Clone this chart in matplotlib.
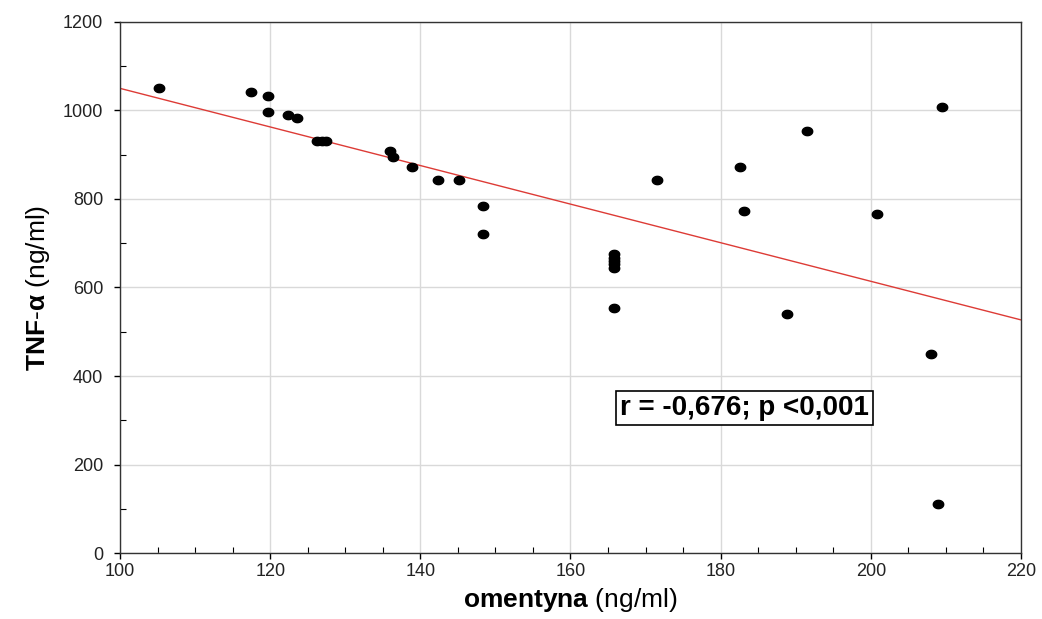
import numpy as np
import matplotlib
matplotlib.use('Agg')
import matplotlib.pyplot as plt
from matplotlib.path import Path
from matplotlib.ticker import MultipleLocator

plt.rcParams['font.family'] = ['Liberation Sans', 'DejaVu Sans']
plt.rcParams['mathtext.fontset'] = 'custom'
plt.rcParams['mathtext.rm'] = 'Liberation Sans'
plt.rcParams['mathtext.bf'] = 'Liberation Sans:bold'
plt.rcParams['mathtext.it'] = 'Liberation Sans:italic'

# omentyna vs TNF-alfa (ng/ml)
omentyna = [105.2, 117.5, 119.7, 119.7, 122.4, 123.6, 126.3, 126.9, 127.5,
            136.0, 136.4, 138.9, 142.4, 145.1, 148.3, 148.3,
            165.8, 165.8, 165.8, 165.8, 165.8, 165.8,
            171.5, 182.6, 183.1, 188.8, 191.5, 200.8, 208.0, 209.5, 208.9]
tnf_alfa = [1050, 1041, 1033, 997, 990, 984, 932, 931, 931,
            909, 895, 872, 843, 843, 785, 721,
            675, 667, 660, 652, 645, 554,
            843, 872, 773, 540, 954, 766, 450, 1008, 111]

# linia regresji
fit_intercept = 1486.0
fit_slope = -4.36
stat_text = 'r = -0,676; p <0,001'

fig = plt.figure(figsize=(10.42, 6.19), dpi=100)
ax = fig.add_axes([0.1152, 0.1066, 0.8646, 0.8579])

# elipsa jako znacznik punktu
t = np.linspace(0, 2 * np.pi, 40)
ellipse = Path(np.column_stack([1.25 * np.cos(t), np.sin(t)]), closed=True)

ax.plot(omentyna, tnf_alfa, linestyle='none', marker=ellipse, markersize=7.5,
        color='black', zorder=3)

xs = np.array([100, 220])
ax.plot(xs, fit_intercept + fit_slope * xs, color='#dd3b36', linewidth=1.0, zorder=2)

ax.set_xlim(100, 220)
ax.set_ylim(0, 1200)
ax.xaxis.set_major_locator(MultipleLocator(20))
ax.xaxis.set_minor_locator(MultipleLocator(5))
ax.yaxis.set_major_locator(MultipleLocator(200))
ax.yaxis.set_minor_locator(MultipleLocator(100))
ax.grid(True, which='major', color='#d9d9d9', linewidth=1.0)
ax.set_axisbelow(True)
ax.tick_params(which='major', direction='out', length=4, width=1, labelsize=13,
               labelcolor='#222222')
ax.tick_params(axis='y', which='major', pad=8)
ax.tick_params(which='minor', direction='in', length=4, width=0.8)
for sp in ax.spines.values():
    sp.set_color('#333333')
    sp.set_linewidth(1.0)

ax.set_xlabel(r'$\mathbf{omentyna}$ (ng/ml)', fontsize=19, labelpad=4)
ax.set_ylabel(r'$\mathbf{TNF\text{-}\alpha}$ (ng/ml)', fontsize=19, labelpad=8)

ax.text(183.2, 328, stat_text, fontsize=20, fontweight='bold', ha='center',
        va='center', zorder=4,
        bbox=dict(boxstyle='square,pad=0.15', facecolor='white',
                  edgecolor='black', linewidth=1.2))

fig.savefig('out.png', dpi=100)
